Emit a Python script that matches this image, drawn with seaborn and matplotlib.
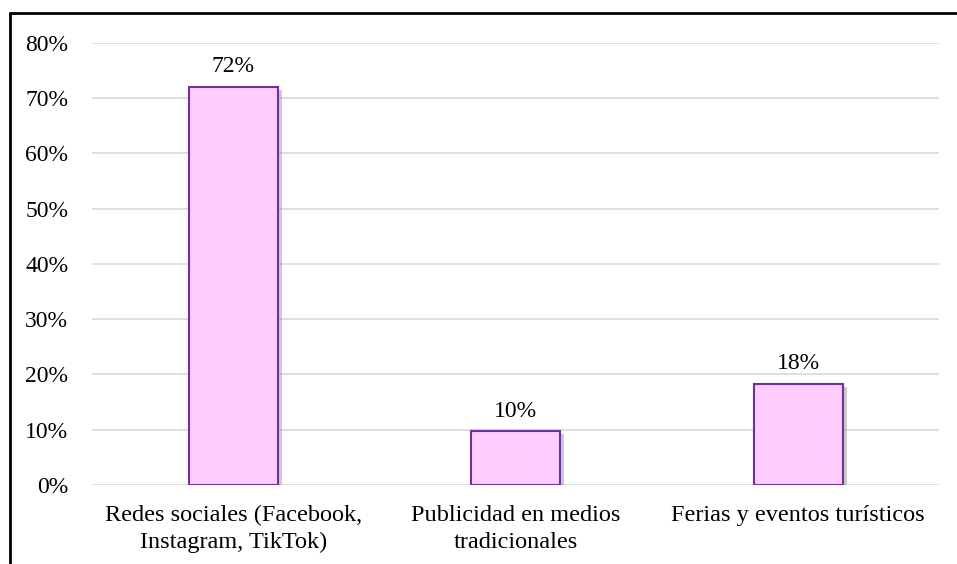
import matplotlib
matplotlib.use("Agg")
import matplotlib.pyplot as plt
import matplotlib.patheffects as pe
from matplotlib.lines import Line2D
from matplotlib.ticker import PercentFormatter
import pandas as pd
import seaborn as sns

categories = ["Redes sociales (Facebook,\nInstagram, TikTok)",
              "Publicidad en medios\ntradicionales",
              "Ferias y eventos turísticos"]
shares = [0.72, 0.097, 0.183]
y_ticks = [0, 0.1, 0.2, 0.3, 0.4, 0.5, 0.6, 0.7, 0.8]

df = pd.DataFrame({"canal": categories, "share": shares})

sns.set_style("white")
plt.rcParams["font.family"] = ["Liberation Serif", "DejaVu Serif"]

fig = plt.figure(figsize=(9.57, 5.64), dpi=100)
ax = fig.add_axes([0.0961, 0.1401, 0.8856, 0.7837])

sns.barplot(x="canal", y="share", data=df, ax=ax, color="#FFCCFF",
            width=0.315, edgecolor="#7030A0", linewidth=1.5, saturation=1)

for p in ax.patches:
    p.set_path_effects([pe.SimplePatchShadow(offset=(3, -2), shadow_rgbFace="#808080", alpha=0.4),
                        pe.Normal()])
    p.set_zorder(3)

ax.bar_label(ax.containers[0], labels=[f"{v*100:.0f}%" for v in shares],
             padding=7, fontsize=17, color="black")

ax.set_ylim(0, 0.8)
ax.set_yticks(y_ticks)
ax.yaxis.set_major_formatter(PercentFormatter(1.0, decimals=0))
ax.grid(axis="y", color="#D9D9D9", linewidth=1.2, zorder=0)
ax.set_axisbelow(True)
ax.tick_params(axis="y", length=0, pad=17, labelsize=17, labelcolor="black")
ax.tick_params(axis="x", length=0, pad=14.5, labelsize=17.5, labelcolor="black")
for lbl in ax.get_xticklabels():
    lbl.set_linespacing(1.35)
ax.set_xlabel("")
ax.set_ylabel("")
sns.despine(ax=ax, left=True, bottom=True, top=True, right=True)

# outer frame (left and top edges visible)
fig.add_artist(Line2D([10 / 957, 10 / 957], [0, 1 - 13 / 564], transform=fig.transFigure,
                      color="black", linewidth=2))
fig.add_artist(Line2D([10 / 957, 1], [1 - 13 / 564, 1 - 13 / 564], transform=fig.transFigure,
                      color="black", linewidth=2))

fig.savefig("out.png", dpi=100)
